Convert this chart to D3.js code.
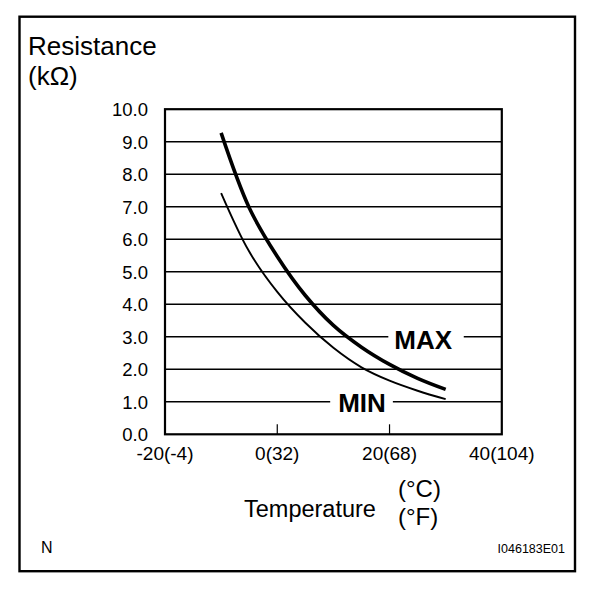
<!DOCTYPE html>
<html>
<head>
<meta charset="utf-8">
<script src="https://cdn.jsdelivr.net/npm/d3@7"></script>
<style>
  body { margin: 0; background: #fff; }
  text { font-family: "Liberation Sans", Arial, sans-serif; fill: #000; }
</style>
</head>
<body>
<div id="wrapper"></div>
<script>
  // data
  const temps = [-10, -5, 0, 5, 10, 15, 20, 25, 30]
  const maxValues = [9.27, 6.97, 5.47, 4.27, 3.35, 2.68, 2.15, 1.72, 1.38]
  const minValues = [7.42, 5.62, 4.38, 3.43, 2.66, 2.06, 1.65, 1.34, 1.08]
  const yTicks = [0, 1, 2, 3, 4, 5, 6, 7, 8, 9, 10]
  const xTicks = [-20, 0, 20, 40]
  const xTickLabels = ["-20(-4)", "0(32)", "20(68)", "40(104)"]

  const width = 608
  const height = 590

  const svg = d3.select("#wrapper")
    .append("svg")
      .attr("width", width)
      .attr("height", height)

  // outer frame
  svg.append("rect")
      .attr("x", 19.5)
      .attr("y", 16.7)
      .attr("width", 555.5)
      .attr("height", 554.5)
      .attr("fill", "none")
      .attr("stroke", "#000")
      .attr("stroke-width", 2.4)

  // scales
  const xScale = d3.scaleLinear()
      .domain([-20, 40])
      .range([165, 501.8])

  const yScale = d3.scaleLinear()
      .domain([0, 10])
      .range([434.3, 109.2])

  // gridlines
  svg.append("g")
    .selectAll("line")
    .data(yTicks.slice(1, -1))
    .join("line")
      .attr("x1", xScale(-20))
      .attr("x2", xScale(40))
      .attr("y1", d => yScale(d))
      .attr("y2", d => yScale(d))
      .attr("stroke", "#000")
      .attr("stroke-width", 1.4)

  // y labels
  svg.append("g")
    .selectAll("text")
    .data(yTicks)
    .join("text")
      .attr("x", 148)
      .attr("y", d => yScale(d) + 0.5)
      .attr("dy", "0.35em")
      .attr("text-anchor", "end")
      .style("font-size", "18.5px")
      .text(d => d.toFixed(1))

  // bottom inner ticks at 0 and 20
  svg.append("g")
    .selectAll("line")
    .data(xTicks.slice(1, -1))
    .join("line")
      .attr("x1", d => xScale(d))
      .attr("x2", d => xScale(d))
      .attr("y1", yScale(0))
      .attr("y2", yScale(0) - 10)
      .attr("stroke", "#000")
      .attr("stroke-width", 1.2)

  // x labels
  svg.append("g")
    .selectAll("text")
    .data(xTicks)
    .join("text")
      .attr("x", d => xScale(d))
      .attr("y", 460)
      .attr("text-anchor", "middle")
      .style("font-size", "19px")
      .text((d, i) => xTickLabels[i])

  // curves
  const line = d3.line()
      .x(d => xScale(d[0]))
      .y(d => yScale(d[1]))
      .curve(d3.curveCatmullRom)

  svg.append("path")
      .datum(temps.map((t, i) => [t, minValues[i]]))
      .attr("d", line)
      .attr("fill", "none")
      .attr("stroke", "#000")
      .attr("stroke-width", 1.9)

  svg.append("path")
      .datum(temps.map((t, i) => [t, maxValues[i]]))
      .attr("d", line)
      .attr("fill", "none")
      .attr("stroke", "#000")
      .attr("stroke-width", 3.6)

  // MAX / MIN labels on white patches that cut the gridlines
  const labels = [
    { text: "MAX", t: 26, r: 3, dy: 12.5, padL: 6, padR: 11 },
    { text: "MIN", t: 15.1, r: 1, dy: 10, padL: 8, padR: 7 },
  ]
  labels.forEach(l => {
    const g = svg.append("g")
    const bg = g.append("rect").attr("fill", "#fff")
    const txt = g.append("text")
        .attr("x", xScale(l.t))
        .attr("y", yScale(l.r) + l.dy)
        .attr("text-anchor", "middle")
        .style("font-size", "26px")
        .style("font-weight", "bold")
        .text(l.text)
    const b = txt.node().getBBox()
    bg.attr("x", b.x - l.padL)
      .attr("y", b.y)
      .attr("width", b.width + l.padL + l.padR)
      .attr("height", b.height)
  })

  // plot frame on top
  svg.append("rect")
      .attr("x", xScale(-20))
      .attr("y", yScale(10))
      .attr("width", xScale(40) - xScale(-20))
      .attr("height", yScale(0) - yScale(10))
      .attr("fill", "none")
      .attr("stroke", "#000")
      .attr("stroke-width", 2.2)

  // axis titles
  svg.append("text")
      .attr("x", 28)
      .attr("y", 55)
      .style("font-size", "26px")
      .text("Resistance")
  svg.append("text")
      .attr("x", 28)
      .attr("y", 85)
      .style("font-size", "26px")
      .text("(kΩ)")

  svg.append("text")
      .attr("x", 244)
      .attr("y", 517)
      .style("font-size", "23.5px")
      .text("Temperature")
  svg.append("text")
      .attr("x", 398)
      .attr("y", 497)
      .style("font-size", "24px")
      .text("(°C)")
  svg.append("text")
      .attr("x", 398)
      .attr("y", 525)
      .style("font-size", "24px")
      .text("(°F)")

  // corner marks
  svg.append("text")
      .attr("x", 41)
      .attr("y", 553)
      .style("font-size", "16px")
      .text("N")
  svg.append("text")
      .attr("x", 565)
      .attr("y", 553)
      .attr("text-anchor", "end")
      .style("font-size", "12.5px")
      .text("I046183E01")
</script>
</body>
</html>
